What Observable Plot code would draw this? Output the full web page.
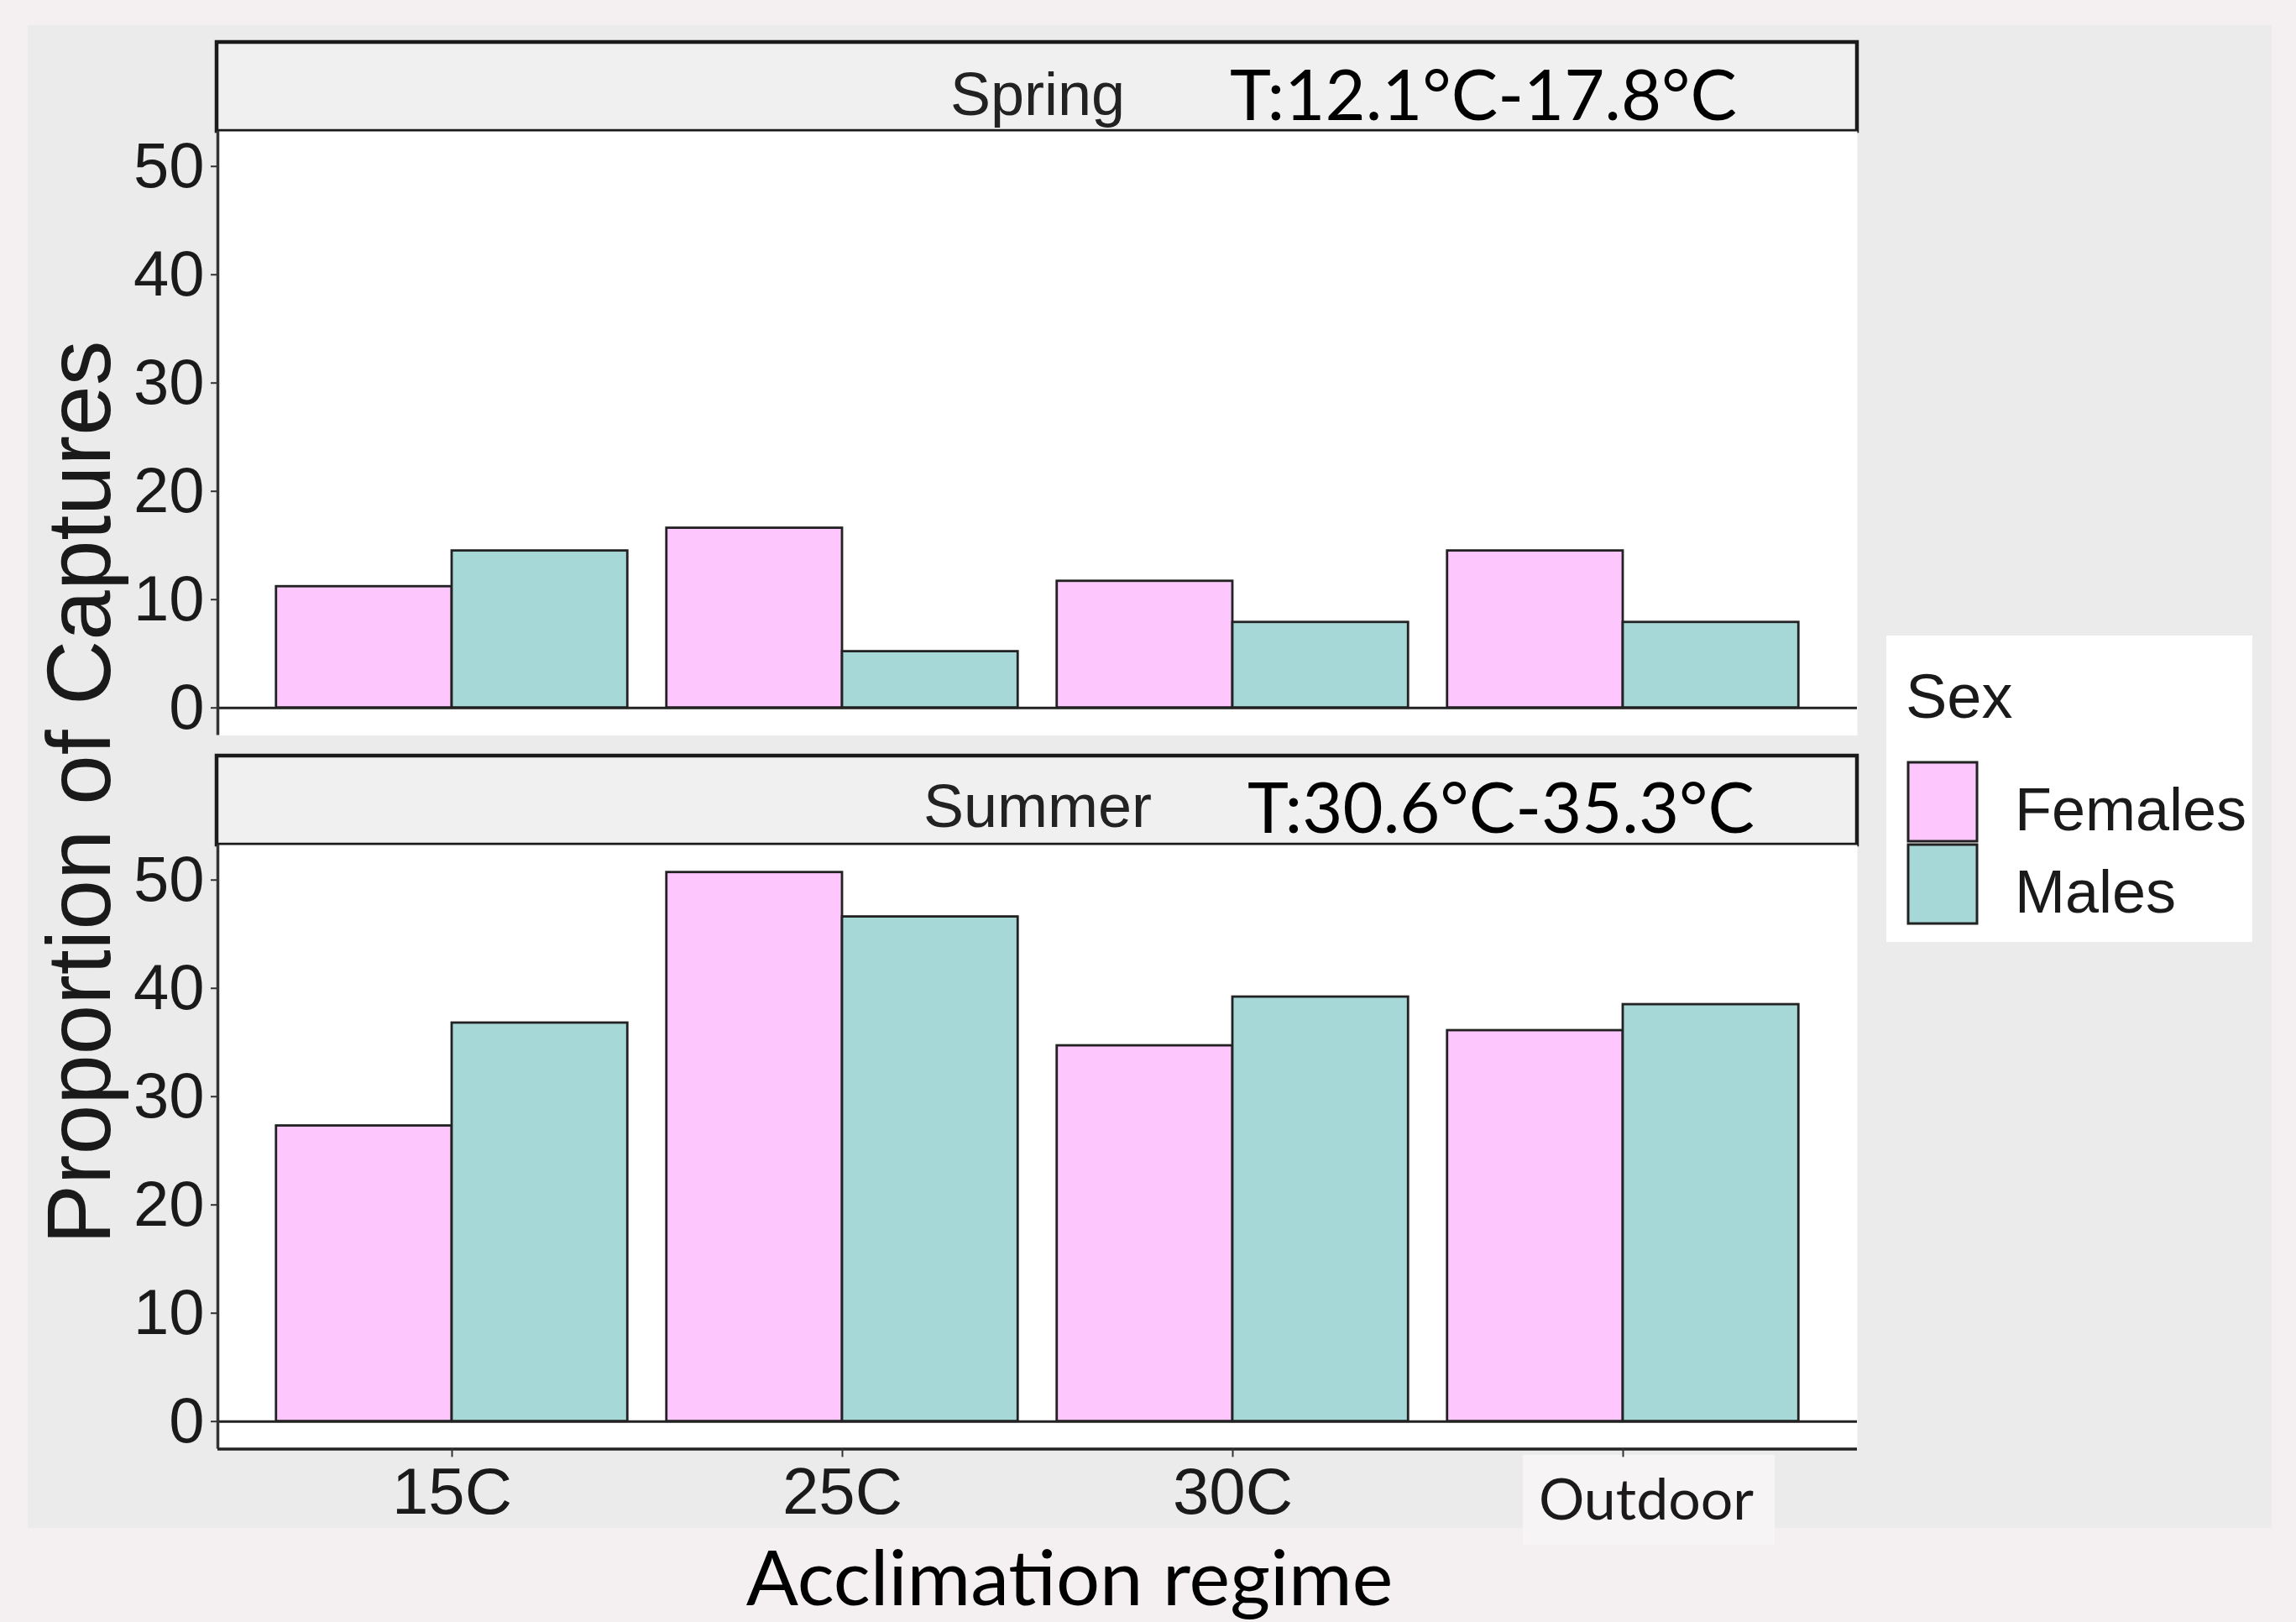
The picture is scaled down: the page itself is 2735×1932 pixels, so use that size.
<!DOCTYPE html>
<html><head><meta charset="utf-8">
<script src="https://cdn.jsdelivr.net/npm/d3@7"></script>
<script src="https://cdn.jsdelivr.net/npm/@observablehq/plot@0.6"></script>
<style>
html,body{margin:0;padding:0;background:#f4eff0;}
#page{position:relative;width:2735px;height:1932px;overflow:hidden;}
#page > *{position:absolute;}
</style></head>
<body><div id="page"></div>
<script>
// ---- data ----
const regimes = ["15C", "25C", "30C", "Outdoor"];
const sexes = ["Females", "Males"];
const seasons = ["Spring", "Summer"];
const seasonTemps = ["T:12.1°C-17.8°C", "T:30.6°C-35.3°C"];
const springFemales = [11.2, 16.6, 11.7, 14.5];
const springMales = [14.5, 5.2, 7.9, 7.9];
const summerFemales = [27.3, 50.7, 34.7, 36.1];
const summerMales = [36.8, 46.6, 39.2, 38.5];
const yTicks = [0, 10, 20, 30, 40, 50];
const yTitle = "Proportion of Captures";
const xTitle = "Acclimation regime";
const legendTitle = "Sex";
const fills = ["#fdc6fd", "#a6d8d8"];

// ---- build table ----
const seriesBySeason = {Spring: [springFemales, springMales], Summer: [summerFemales, summerMales]};
const rows = [];
seasons.forEach(season => {
  seriesBySeason[season].forEach((vals, s) => {
    vals.forEach((v, i) => rows.push({season, regime: regimes[i], pos: i + 1, s, sex: sexes[s], value: v}));
  });
});
const ymax = d3.max(rows, d => d.value);
const yDomain = [-0.05 * ymax, 1.05 * ymax];
const xDomain = [0.4, regimes.length + 0.6];
const barW = 0.45;

const SANS = "'Liberation Sans', Arial, sans-serif";
const CAL = "Lato, 'Open Sans', sans-serif";
const INK = "#1a1a1a";

const PANEL_H = 719.4;
function panel(season, showX) {
  const data = rows.filter(d => d.season === season);
  const marks = [
    Plot.frame({fill: "white", stroke: "none"}),
    Plot.rect(data, {
      x1: d => d.pos + (d.s - 1) * barW,
      x2: d => d.pos + d.s * barW,
      y1: 0, y2: "value", fill: "sex", stroke: "#222", strokeWidth: 2.8
    }),
    Plot.ruleY([0], {stroke: "#222", strokeWidth: 3}),
    Plot.ruleX([xDomain[0]], {stroke: "#333", strokeWidth: 3.5}),
    Plot.axisY({ticks: yTicks, tickSize: 8, tickPadding: 8, fontSize: 76, label: null, stroke: "#333", strokeWidth: 2})
  ];
  if (showX) {
    marks.push(
      Plot.ruleY([yDomain[0]], {stroke: "#222", strokeWidth: 3.5}),
      Plot.axisX({ticks: regimes.map((r, i) => i + 1), tickFormat: i => i < regimes.length ? regimes[i - 1] : "",
        tickSize: 10, tickPadding: 12, fontSize: 78, label: null, stroke: "#333", strokeWidth: 2})
    );
  }
  return Plot.plot({
    width: 2250,
    height: PANEL_H + (showX ? 130 : 0),
    marginLeft: 259, marginRight: 38, marginTop: 0, marginBottom: showX ? 130 : 0,
    x: {domain: xDomain, axis: showX ? undefined : null},
    y: {domain: yDomain},
    color: {domain: sexes, range: fills},
    style: {background: "transparent", overflow: "visible", fontFamily: SANS, color: INK},
    marks
  });
}

const page = d3.select("#page");

// bottom decorative layer
const under = page.append("svg").attr("width", 2735).attr("height", 1932).style("left", "0px").style("top", "0px");
under.append("rect").attr("x", 33).attr("y", 30).attr("width", 2673).attr("height", 1790).attr("fill", "#ebebeb");
under.append("rect").attr("x", 1814).attr("y", 1733).attr("width", 300).attr("height", 107).attr("fill", "#f7f4f5");
[50, 900].forEach(y => {
  under.append("rect").attr("x", 258).attr("y", y).attr("width", 1954).attr("height", 106)
    .attr("fill", "#f0f0f0").attr("stroke", INK).attr("stroke-width", 4.5);
});
under.append("rect").attr("x", 2247).attr("y", 757).attr("width", 436).attr("height", 365).attr("fill", "white");

// plots
const p1 = panel("Spring", false);
const p2 = panel("Summer", true);
p1.style.position = "absolute"; p1.style.left = "0px"; p1.style.top = "156px";
p2.style.position = "absolute"; p2.style.left = "0px"; p2.style.top = "1006px";
document.getElementById("page").appendChild(p1);
document.getElementById("page").appendChild(p2);

// overlay text layer
const over = page.append("svg").attr("width", 2735).attr("height", 1932).style("left", "0px").style("top", "0px").style("pointer-events", "none");
const xs = p2.scale("x");
over.append("text").attr("x", xs.apply(regimes.length) + 28).attr("y", 1810)
  .attr("text-anchor", "middle").attr("font-family", CAL).attr("font-size", 68).attr("fill", INK).text(regimes[3]);

// strip texts
const stripBase = [137, 985];
const tempBase = [143, 992];
const tempX = [1465, 1486];
seasons.forEach((s, k) => {
  over.append("text").attr("x", 1236).attr("y", stripBase[k]).attr("text-anchor", "middle")
    .attr("font-family", SANS).attr("font-size", 72).attr("fill", "#222").text(s);
  over.append("text").attr("x", tempX[k]).attr("y", tempBase[k])
    .attr("font-family", CAL).attr("font-size", 83).attr("fill", "#000").text(seasonTemps[k]);
});

// axis titles
over.append("text").attr("transform", "translate(131,944) rotate(-90)").attr("text-anchor", "middle")
  .attr("font-family", SANS).attr("font-size", 107).attr("fill", INK).text(yTitle);
over.append("text").attr("x", 1274).attr("y", 1912).attr("text-anchor", "middle")
  .attr("font-family", CAL).attr("font-size", 92).attr("fill", "#000").text(xTitle);

// legend
const cs = Plot.scale({color: {domain: sexes, range: fills}});
over.append("text").attr("x", 2270).attr("y", 855).attr("font-family", SANS).attr("font-size", 74).attr("fill", INK).text(legendTitle);
const keyTop = [908, 1006];
const labBase = [989, 1087];
sexes.forEach((s, k) => {
  over.append("rect").attr("x", 2273).attr("y", keyTop[k]).attr("width", 82).attr("height", 94)
    .attr("fill", cs.apply(s)).attr("stroke", "#222").attr("stroke-width", 3);
  over.append("text").attr("x", 2400).attr("y", labBase[k]).attr("font-family", SANS).attr("font-size", 72)
    .attr("fill", INK).text(s);
});
</script>
</body></html>
